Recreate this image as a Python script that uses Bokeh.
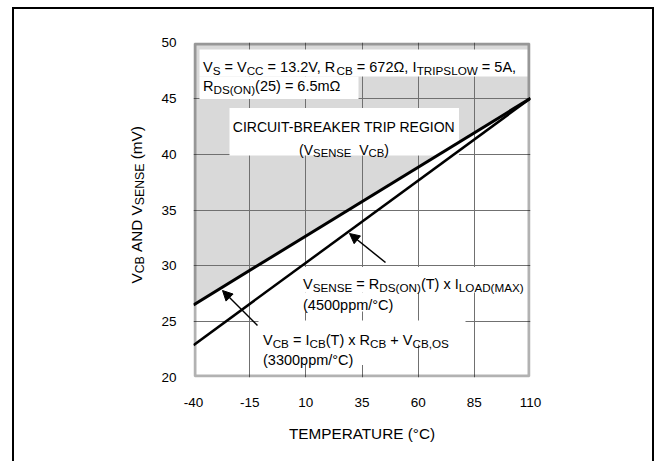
import math
from bokeh.plotting import figure
from bokeh.layouts import row
from bokeh.models import Range1d, Label, BoxAnnotation, Arrow, NormalHead, CustomJSTickFormatter
from bokeh.embed import file_html
from bokeh.resources import INLINE

# ---------------- data ----------------
temperature = [-40, 110]          # °C
v_cb = [26.5, 45.0]               # mV  (3300ppm/°C)
v_sense = [22.9, 45.0]            # mV  (4500ppm/°C)
x_ticks = [-40, -15, 10, 35, 60, 85, 110]
y_ticks = [20, 25, 30, 35, 40, 45, 50]
x_title = "TEMPERATURE (°C)"
y_title_parts = [("V", 0), ("CB", 1), (" AND V", 0), ("SENSE", 1), (" (mV)", 0)]
cond_line1 = [("V", 0), ("S", 1), (" = V", 0), ("CC", 1), (" = 13.2V, R", 0), ("CB", 1),
              (" = 672Ω, I", 0), ("TRIPSLOW", 1), (" = 5A,", 0)]
cond_line2 = [("R", 0), ("DS(ON)", 1), ("(25) = 6.5mΩ", 0)]
trip_line1 = "CIRCUIT-BREAKER TRIP REGION"
trip_line2 = [("(V", 0), ("SENSE", 1), ("  V", 0), ("CB", 1), (")", 0)]
sense_line1 = [("V", 0), ("SENSE", 1), (" = R", 0), ("DS(ON)", 1), ("(T) x I", 0), ("LOAD(MAX)", 1)]
sense_line2 = [("(4500ppm/°C)", 0)]
cb_line1 = [("V", 0), ("CB", 1), (" = I", 0), ("CB", 1), ("(T) x R", 0), ("CB", 1), (" + V", 0), ("CB,OS", 1)]
cb_line2 = [("(3300ppm/°C)", 0)]

# ---------------- layout ----------------
W, H = 656, 461
LW = 153                                   # width of the left (y-title) panel
PL, PR, PT, PB = 193, 530, 42, 377         # plot frame edges in page px
X0, X1 = x_ticks[0], x_ticks[-1]
Y0, Y1 = y_ticks[0], y_ticks[-1]
FONT = "Liberation Sans"

def X(px):  # page x -> data x
    return X0 + (px - PL) * (X1 - X0) / (PR - PL)

def Y(py):  # page y -> data y
    return Y0 + (PB - py) * (Y1 - Y0) / (PB - PT)

AW = {' ': 278, '(': 333, ')': 333, ',': 278, '-': 333, '.': 278, '/': 278, '=': 584, '+': 584,
      '°': 400, 'Ω': 768, 'A': 667, 'B': 667, 'C': 722, 'D': 722, 'E': 667, 'G': 778, 'I': 278,
      'K': 667, 'L': 556, 'M': 833, 'N': 722, 'O': 778, 'P': 667, 'R': 722, 'S': 667, 'T': 611,
      'U': 722, 'V': 667, 'W': 944, 'X': 667, 'm': 833, 'p': 556, 'x': 500}
for d in "0123456789":
    AW[d] = 556

def tw(s, size):
    return sum(AW.get(c, 556) for c in s) * size / 1000.0

# ---------------- main plot ----------------
pw = W - LW
p = figure(width=pw, height=H, x_range=Range1d(X0, X1), y_range=Range1d(Y0, Y1),
           output_backend="svg", toolbar_location=None,
           min_border_left=PL - LW, min_border_right=W - PR, min_border_top=PT, min_border_bottom=H - PB)
p.background_fill_color = "white"
p.border_fill_color = None
p.outline_line_color = None
p.styles = {
    "background": "linear-gradient(#000,#000) 498.5px 6.5px / 2px 100% no-repeat, "
                  "linear-gradient(#000,#000) 0px 6.5px / 500.5px 2px no-repeat"
}

fmt = CustomJSTickFormatter(code="return String(tick);")
for ax in (p.xaxis, p.yaxis):
    ax.formatter = fmt
    ax.axis_line_color = None
    ax.major_tick_line_color = None
    ax.minor_tick_line_color = None
    ax.major_tick_out = 0
    ax.major_tick_in = 0
    ax.minor_tick_out = 0
    ax.minor_tick_in = 0
    ax.major_label_text_font = FONT
    ax.major_label_text_font_size = "13.5px"
    ax.major_label_text_color = "black"
p.xaxis.ticker = x_ticks
p.yaxis.ticker = y_ticks
p.xaxis.major_label_standoff = 20
p.yaxis.major_label_standoff = 17
p.xaxis.axis_label = x_title
p.xaxis.axis_label_text_font = FONT
p.xaxis.axis_label_text_font_size = "15.3px"
p.xaxis.axis_label_text_font_style = "normal"
p.xaxis.axis_label_text_color = "black"
p.xaxis.axis_label_standoff = 15

p.grid.grid_line_color = "#707070"
p.grid.grid_line_width = 1

# shaded trip region (above V_CB)
p.varea(x=temperature, y1=v_cb, y2=[Y1] * len(temperature), fill_color="#d9d9d9", level="image")

# white label backgrounds (page px: left, right, top, bottom)
boxes = [(199, 527, 49, 76), (199, 358, 76, 98.5), (229, 458.5, 107.5, 155),
         (298.5, 527, 266.5, 292), (298.5, 396, 292, 311),
         (258, 465, 320, 344), (258, 364, 344, 364.5)]
for l, r, t, b in boxes:
    p.add_layout(BoxAnnotation(left=X(l), right=X(r), top=Y(t), bottom=Y(b),
                               fill_color="white", fill_alpha=1, line_color=None, level="underlay"))

p.line(temperature, v_cb, line_width=3, color="black")
p.line(temperature, v_sense, line_width=2.5, color="black")

# plot frame (drawn just inside the frame)
p.add_layout(BoxAnnotation(left=X(PL + 1.5), right=X(PR - 1.5), top=Y(PT + 1.5), bottom=Y(PB - 1.5),
                           fill_alpha=0, fill_color=None, line_color="black", line_width=3,
                           level="overlay"))

def rich(fig, conv, x, y, parts, size, sub, drop=3.5, angle=0.0):
    cx, cy = conv
    pos = 0.0
    for t, is_sub in parts:
        fs = sub if is_sub else size
        lead = len(t) - len(t.lstrip(' '))
        pos += tw(' ' * lead, fs)
        s = t.strip(' ')
        if s:
            if angle == 0:
                px, py = x + pos, y + (drop if is_sub else 0)
            else:
                px, py = x + (drop if is_sub else 0), y - pos
            fig.add_layout(Label(x=cx(px), y=cy(py), text=s, text_font=FONT,
                                 text_font_size=f"{fs}px", text_color="black",
                                 text_align="left", text_baseline="alphabetic", angle=angle))
        pos += tw(s, fs) + tw(' ' * (len(t) - lead - len(s)), fs)
    return pos

def rich_width(parts, size, sub):
    return sum(tw(t, sub if s else size) for t, s in parts)

F, f = 14.5, 11.7
PC = (X, Y)
rich(p, PC, 202.5, 66, cond_line1, F, f)
rich(p, PC, 202.5, 85, cond_line2, F, f)
p.add_layout(Label(x=X(343.5), y=Y(126), text=trip_line1, text_font=FONT, text_font_size="14px",
                   text_color="black", text_align="center", text_baseline="alphabetic"))
w2 = rich_width(trip_line2, 14, 11.3)
rich(p, PC, 343.5 - w2 / 2, 149, trip_line2, 14, 11.3)
rich(p, PC, 302.5, 283.5, sense_line1, F, f)
rich(p, PC, 302.5, 304, sense_line2, F, f)
rich(p, PC, 262.5, 339.5, cb_line1, F, f)
rich(p, PC, 262.5, 359, cb_line2, F, f)

# arrows
for (x0, y0, x1, y1) in [(385, 262, 349, 233), (257, 325, 222, 290)]:
    p.add_layout(Arrow(x_start=X(x0), y_start=Y(y0), x_end=X(x1), y_end=Y(y1), line_width=1.5,
                       line_color="black",
                       end=NormalHead(size=10, fill_color="black", line_color="black", line_width=1)))

# ---------------- left panel with the y-axis title ----------------
# (a row aligns this panel's frame vertically with the main frame: PT..PB)
lp = figure(width=LW, height=H, x_range=Range1d(0, LW), y_range=Range1d(H - PB, H - PT), title=None,
            output_backend="svg", toolbar_location=None, x_axis_type=None, y_axis_type=None,
            min_border=0, min_border_left=0, min_border_right=0, min_border_top=0, min_border_bottom=0)
lp.grid.visible = False
lp.outline_line_color = None
lp.background_fill_color = None
lp.border_fill_color = None
lp.styles = {
    "background": "linear-gradient(#000,#000) 11.5px 6.5px / 2px 100% no-repeat, "
                  "linear-gradient(#000,#000) 11.5px 6.5px / 100% 2px no-repeat"
}
LC = (lambda px: px, lambda py: H - py)
rich(lp, LC, 136, 283, y_title_parts, 15.3, 12.3, drop=3.5, angle=math.pi / 2)

layout = row(lp, p, spacing=0)
open("out.html", "w").write(file_html(layout, INLINE))
